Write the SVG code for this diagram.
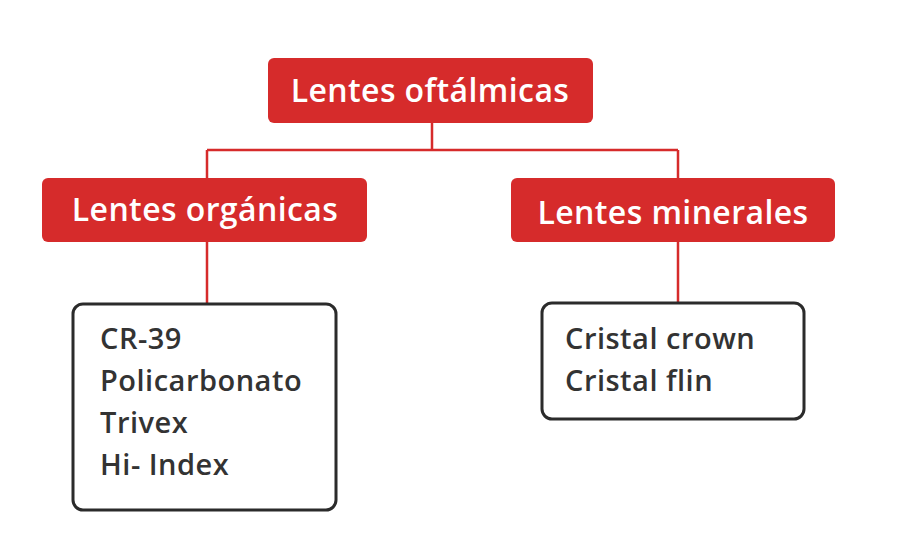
<svg xmlns="http://www.w3.org/2000/svg" width="900" height="550" viewBox="0 0 900 550">
<style>
.red{fill:#D62B2B}
.hd{fill:#fff;font-family:"Open Sans","Liberation Sans",sans-serif;font-weight:600;font-size:32px;letter-spacing:0.4px;text-anchor:middle}
.box{fill:#fff;stroke:#2b2b2b;stroke-width:3}
.it{fill:#333;font-family:"Open Sans","Liberation Sans",sans-serif;font-weight:600;font-size:29px;letter-spacing:0.5px}
.ln{stroke:#D62B2B;stroke-width:2.5;fill:none}
</style>
<rect width="900" height="550" fill="#fff"/>
<g id="connectors">
<path class="ln" d="M432 123V150M207 150H678M207 150V178M678 150V178M207 242V303M678 242V302"/>
</g>
<g id="root"><rect class="red" x="268" y="58" width="325" height="65" rx="6"/><text class="hd" x="430" y="102">Lentes oftálmicas</text></g>
<g id="organicas"><rect class="red" x="42" y="178" width="325" height="64" rx="6"/><text class="hd" x="205" y="221">Lentes orgánicas</text></g>
<g id="minerales"><rect class="red" x="511" y="178" width="324" height="64" rx="6"/><text class="hd" x="673" y="224">Lentes minerales</text></g>
<g id="org-list"><rect class="box" x="73" y="304" width="263" height="206" rx="10"/>
<text class="it" x="100" y="349">CR-39</text><text class="it" x="100" y="391">Policarbonato</text><text class="it" x="100" y="433">Trivex</text><text class="it" x="100" y="475">Hi- Index</text></g>
<g id="min-list"><rect class="box" x="542" y="303" width="262" height="116" rx="10"/>
<text class="it" x="565" y="349">Cristal crown</text><text class="it" x="565" y="391">Cristal flin</text></g>
</svg>
